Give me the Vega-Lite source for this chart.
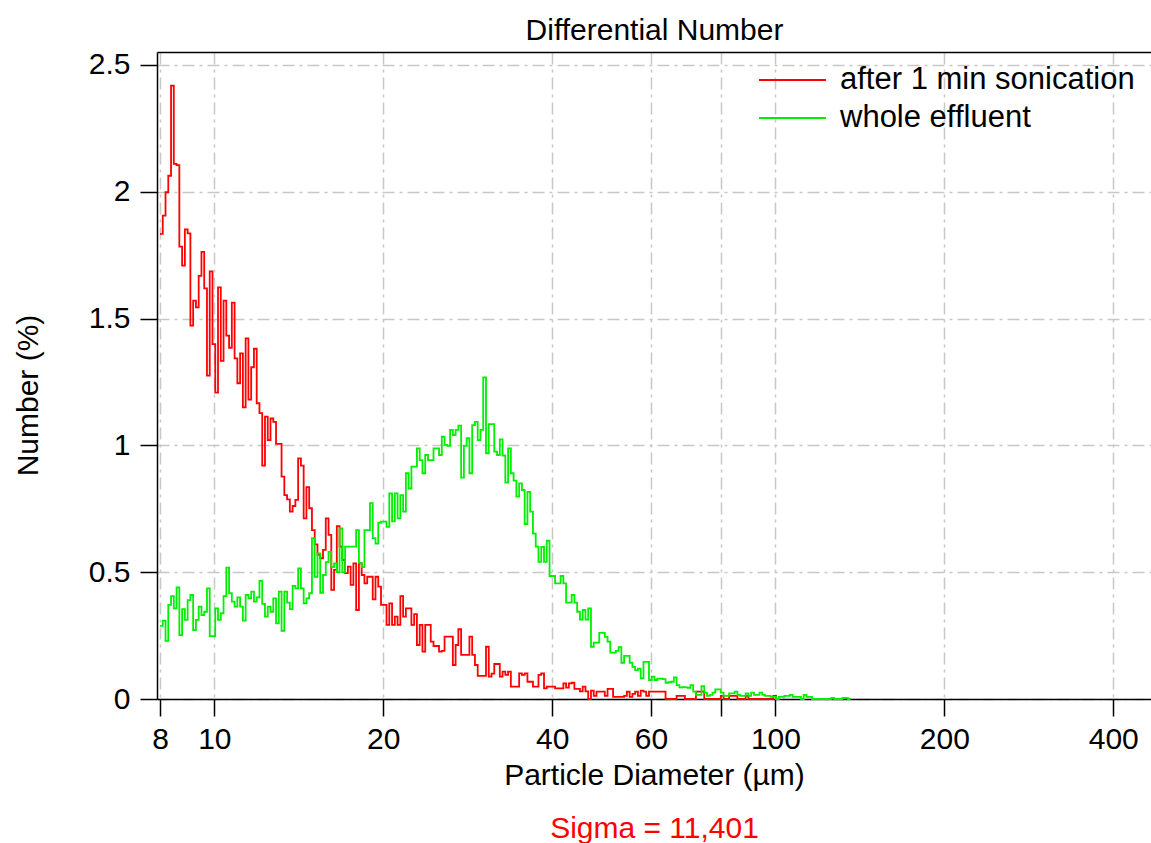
{
"$schema": "https://vega.github.io/schema/vega-lite/v6.json",
"width": 994, "height": 647,
"autosize": {"type": "none"},
"padding": {"left": 157, "top": 52, "right": 0, "bottom": 144},
"background": "white",
"config": {
  "view": {"stroke": null},
  "font": "Liberation Sans",
  "axis": {"domainColor": "black", "domainWidth": 1.5, "tickColor": "black", "tickWidth": 1.5, "tickSize": 17,
    "labelFontSize": 30, "labelColor": "black", "labelFont": "Liberation Sans",
    "titleFont": "Liberation Sans", "titleFontSize": 30, "titleFontWeight": "normal", "titleColor": "black",
    "gridColor": "#c8c8c8", "gridWidth": 1.5, "gridDash": [12, 5, 3, 5], "zindex": 1}
},
"datasets": {
"after": [
{"d":8,"n":1.834},{"d":8.0912,"n":1.906},{"d":8.1835,"n":1.998},{"d":8.2768,"n":2.063},{"d":8.3711,"n":2.418},{"d":8.4666,"n":2.11},{"d":8.5631,"n":2.105},{"d":8.6608,"n":1.784},{"d":8.7595,"n":1.709},{"d":8.8594,"n":1.852},
{"d":8.9604,"n":1.836},{"d":9.0626,"n":1.472},{"d":9.1659,"n":1.571},{"d":9.2704,"n":1.544},{"d":9.3761,"n":1.668},{"d":9.483,"n":1.763},{"d":9.5911,"n":1.619},{"d":9.7005,"n":1.275},{"d":9.8111,"n":1.686},{"d":9.923,"n":1.399},
{"d":10.0361,"n":1.208},{"d":10.1505,"n":1.623},{"d":10.2663,"n":1.333},{"d":10.3833,"n":1.571},{"d":10.5017,"n":1.433},{"d":10.6215,"n":1.385},{"d":10.7426,"n":1.563},{"d":10.865,"n":1.343},{"d":10.9889,"n":1.245},{"d":11.1142,"n":1.363},
{"d":11.2409,"n":1.15},{"d":11.3691,"n":1.422},{"d":11.4987,"n":1.18},{"d":11.6298,"n":1.308},{"d":11.7624,"n":1.381},{"d":11.8965,"n":1.166},{"d":12.0322,"n":1.127},{"d":12.1694,"n":0.92},{"d":12.3081,"n":1.113},{"d":12.4484,"n":1.021},
{"d":12.5904,"n":1.106},{"d":12.734,"n":1.093},{"d":12.8791,"n":1.006},{"d":13.026,"n":1.006},{"d":13.1745,"n":0.877},{"d":13.3247,"n":0.804},{"d":13.4766,"n":0.787},{"d":13.6303,"n":0.739},{"d":13.7857,"n":0.761},{"d":13.9429,"n":0.785},
{"d":14.1019,"n":0.949},{"d":14.2627,"n":0.92},{"d":14.4253,"n":0.712},{"d":14.5898,"n":0.835},{"d":14.7561,"n":0.752},{"d":14.9244,"n":0.666},{"d":15.0945,"n":0.61},{"d":15.2667,"n":0.568},{"d":15.4407,"n":0.555},{"d":15.6168,"n":0.588},
{"d":15.7948,"n":0.712},{"d":15.9749,"n":0.647},{"d":16.157,"n":0.43},{"d":16.3413,"n":0.509},{"d":16.5276,"n":0.682},{"d":16.716,"n":0.601},{"d":16.9066,"n":0.548},{"d":17.0994,"n":0.496},{"d":17.2944,"n":0.522},{"d":17.4915,"n":0.45},
{"d":17.691,"n":0.535},{"d":17.8927,"n":0.351},{"d":18.0967,"n":0.535},{"d":18.3031,"n":0.489},{"d":18.5117,"n":0.456},{"d":18.7228,"n":0.482},{"d":18.9363,"n":0.482},{"d":19.1522,"n":0.393},{"d":19.3706,"n":0.482},{"d":19.5914,"n":0.443},
{"d":19.8148,"n":0.371},{"d":20.0407,"n":0.371},{"d":20.2692,"n":0.292},{"d":20.5003,"n":0.377},{"d":20.7341,"n":0.292},{"d":20.9705,"n":0.325},{"d":21.2096,"n":0.292},{"d":21.4514,"n":0.406},{"d":21.696,"n":0.325},{"d":21.9434,"n":0.357},
{"d":22.1936,"n":0.357},{"d":22.4466,"n":0.292},{"d":22.7026,"n":0.335},{"d":22.9614,"n":0.213},{"d":23.2232,"n":0.292},{"d":23.488,"n":0.187},{"d":23.7558,"n":0.292},{"d":24.0267,"n":0.292},{"d":24.3006,"n":0.226},{"d":24.5777,"n":0.209},
{"d":24.8579,"n":0.209},{"d":25.1413,"n":0.187},{"d":25.428,"n":0.19},{"d":25.7179,"n":0.246},{"d":26.0111,"n":0.246},{"d":26.3077,"n":0.246},{"d":26.6077,"n":0.134},{"d":26.911,"n":0.213},{"d":27.2179,"n":0.275},{"d":27.5282,"n":0.174},
{"d":27.842,"n":0.174},{"d":28.1595,"n":0.174},{"d":28.4805,"n":0.246},{"d":28.8052,"n":0.174},{"d":29.1337,"n":0.134},{"d":29.4659,"n":0.091},{"d":29.8018,"n":0.091},{"d":30.1416,"n":0.091},{"d":30.4853,"n":0.206},{"d":30.8329,"n":0.088},
{"d":31.1844,"n":0.1},{"d":31.54,"n":0.138},{"d":31.8996,"n":0.138},{"d":32.2633,"n":0.088},{"d":32.6311,"n":0.108},{"d":33.0032,"n":0.095},{"d":33.3795,"n":0.108},{"d":33.7601,"n":0.049},{"d":34.145,"n":0.049},{"d":34.5343,"n":0.049},
{"d":34.9281,"n":0.101},{"d":35.3263,"n":0.095},{"d":35.7291,"n":0.101},{"d":36.1365,"n":0.068},{"d":36.5485,"n":0.068},{"d":36.9652,"n":0.049},{"d":37.3867,"n":0.049},{"d":37.813,"n":0.095},{"d":38.2441,"n":0.101},{"d":38.6802,"n":0.042},
{"d":39.1212,"n":0.049},{"d":39.5672,"n":0.049},{"d":40.0184,"n":0.049},{"d":40.4747,"n":0.042},{"d":40.9362,"n":0.042},{"d":41.4029,"n":0.042},{"d":41.875,"n":0.062},{"d":42.3524,"n":0.045},{"d":42.8353,"n":0.062},{"d":43.3237,"n":0.064},
{"d":43.8178,"n":0.04},{"d":44.3174,"n":0.04},{"d":44.8227,"n":0.03},{"d":45.3338,"n":0.049},{"d":45.8507,"n":0.03},{"d":46.3734,"n":0},{"d":46.9022,"n":0.033},{"d":47.4369,"n":0.012},{"d":47.9778,"n":0.029},{"d":48.5248,"n":0.029},
{"d":49.0781,"n":0.029},{"d":49.6377,"n":0.012},{"d":50.2037,"n":0.04},{"d":50.7761,"n":0.04},{"d":51.355,"n":0.008},{"d":51.9406,"n":0.008},{"d":52.5328,"n":0.008},{"d":53.1317,"n":0.008},{"d":53.7375,"n":0.012},{"d":54.3502,"n":0.029},
{"d":54.97,"n":0.008},{"d":55.5968,"n":0.02},{"d":56.2307,"n":0.029},{"d":56.8718,"n":0.012},{"d":57.5202,"n":0.033},{"d":58.176,"n":0.029},{"d":58.8393,"n":0.012},{"d":59.5102,"n":0.029},{"d":60.1887,"n":0.029},{"d":60.8749,"n":0.029},
{"d":61.5691,"n":0.029},{"d":62.2711,"n":0.029},{"d":62.9811,"n":0.029},{"d":63.6992,"n":0},{"d":64.4254,"n":0},{"d":65.16,"n":0},{"d":65.9029,"n":0},{"d":66.6543,"n":0.012},{"d":67.4143,"n":0.012},{"d":68.1829,"n":0.012},
{"d":68.9605,"n":0},{"d":69.7468,"n":0},{"d":70.542,"n":0},{"d":71.3463,"n":0},{"d":72.1598,"n":0.029},{"d":72.9825,"n":0.029},{"d":73.8147,"n":0.029},{"d":74.6563,"n":0},{"d":75.5075,"n":0},{"d":76.3684,"n":0},
{"d":77.2392,"n":0},{"d":78.1199,"n":0},{"d":79.0106,"n":0},{"d":79.9115,"n":0.012},{"d":80.8226,"n":0},{"d":81.7441,"n":0},{"d":82.6761,"n":0.012},{"d":83.6188,"n":0.012},{"d":84.5722,"n":0.012},{"d":85.5365,"n":0},
{"d":86.5118,"n":0},{"d":87.4982,"n":0},{"d":88.4958,"n":0.012},{"d":89.5049,"n":0},{"d":90.5254,"n":0},{"d":91.5576,"n":0},{"d":92.6015,"n":0},{"d":93.6573,"n":0},{"d":94.7252,"n":0},{"d":95.8052,"n":0},
{"d":96.8975,"n":0},{"d":98.0023,"n":0},{"d":99.1197,"n":0.012},{"d":100.2499,"n":0}
],
"whole": [
{"d":8,"n":0.288},{"d":8.0912,"n":0.309},{"d":8.1835,"n":0.229},{"d":8.2768,"n":0.371},{"d":8.3711,"n":0.406},{"d":8.4666,"n":0.357},{"d":8.5631,"n":0.44},{"d":8.6608,"n":0.252},{"d":8.7595,"n":0.354},{"d":8.8594,"n":0.312},
{"d":8.9604,"n":0.39},{"d":9.0626,"n":0.41},{"d":9.1659,"n":0.272},{"d":9.2704,"n":0.312},{"d":9.3761,"n":0.364},{"d":9.483,"n":0.331},{"d":9.5911,"n":0.344},{"d":9.7005,"n":0.436},{"d":9.8111,"n":0.248},{"d":9.923,"n":0.248},
{"d":10.0361,"n":0.357},{"d":10.1505,"n":0.312},{"d":10.2663,"n":0.338},{"d":10.3833,"n":0.406},{"d":10.5017,"n":0.518},{"d":10.6215,"n":0.417},{"d":10.7426,"n":0.384},{"d":10.865,"n":0.364},{"d":10.9889,"n":0.401},{"d":11.1142,"n":0.364},
{"d":11.2409,"n":0.309},{"d":11.3691,"n":0.41},{"d":11.4987,"n":0.397},{"d":11.6298,"n":0.423},{"d":11.7624,"n":0.384},{"d":11.8965,"n":0.401},{"d":12.0322,"n":0.466},{"d":12.1694,"n":0.375},{"d":12.3081,"n":0.325},{"d":12.4484,"n":0.364},
{"d":12.5904,"n":0.344},{"d":12.734,"n":0.397},{"d":12.8791,"n":0.298},{"d":13.026,"n":0.423},{"d":13.1745,"n":0.269},{"d":13.3247,"n":0.423},{"d":13.4766,"n":0.38},{"d":13.6303,"n":0.354},{"d":13.7857,"n":0.446},{"d":13.9429,"n":0.436},
{"d":14.1019,"n":0.515},{"d":14.2627,"n":0.436},{"d":14.4253,"n":0.377},{"d":14.5898,"n":0.397},{"d":14.7561,"n":0.417},{"d":14.9244,"n":0.634},{"d":15.0945,"n":0.482},{"d":15.2667,"n":0.574},{"d":15.4407,"n":0.419},{"d":15.6168,"n":0.489},
{"d":15.7948,"n":0.54},{"d":15.9749,"n":0.58},{"d":16.157,"n":0.52},{"d":16.3413,"n":0.535},{"d":16.5276,"n":0.5},{"d":16.716,"n":0.673},{"d":16.9066,"n":0.5},{"d":17.0994,"n":0.601},{"d":17.2944,"n":0.601},{"d":17.4915,"n":0.601},
{"d":17.691,"n":0.601},{"d":17.8927,"n":0.666},{"d":18.0967,"n":0.537},{"d":18.3031,"n":0.52},{"d":18.5117,"n":0.666},{"d":18.7228,"n":0.666},{"d":18.9363,"n":0.772},{"d":19.1522,"n":0.634},{"d":19.3706,"n":0.613},{"d":19.5914,"n":0.695},
{"d":19.8148,"n":0.699},{"d":20.0407,"n":0.699},{"d":20.2692,"n":0.679},{"d":20.5003,"n":0.811},{"d":20.7341,"n":0.7},{"d":20.9705,"n":0.811},{"d":21.2096,"n":0.712},{"d":21.4514,"n":0.804},{"d":21.696,"n":0.739},{"d":21.9434,"n":0.89},
{"d":22.1936,"n":0.83},{"d":22.4466,"n":0.916},{"d":22.7026,"n":0.916},{"d":22.9614,"n":0.988},{"d":23.2232,"n":0.942},{"d":23.488,"n":0.89},{"d":23.7558,"n":0.962},{"d":24.0267,"n":0.942},{"d":24.3006,"n":0.942},{"d":24.5777,"n":0.988},
{"d":24.8579,"n":0.988},{"d":25.1413,"n":0.962},{"d":25.428,"n":1.034},{"d":25.7179,"n":1.002},{"d":26.0111,"n":0.998},{"d":26.3077,"n":1.061},{"d":26.6077,"n":1.041},{"d":26.911,"n":1.061},{"d":27.2179,"n":1.078},{"d":27.5282,"n":0.873},
{"d":27.842,"n":0.998},{"d":28.1595,"n":1.028},{"d":28.4805,"n":0.89},{"d":28.8052,"n":1.08},{"d":29.1337,"n":1.093},{"d":29.4659,"n":1.021},{"d":29.8018,"n":1.061},{"d":30.1416,"n":1.268},{"d":30.4853,"n":0.969},{"d":30.8329,"n":1.084},
{"d":31.1844,"n":1.084},{"d":31.54,"n":0.975},{"d":31.8996,"n":0.962},{"d":32.2633,"n":1.024},{"d":32.6311,"n":0.96},{"d":33.0032,"n":0.853},{"d":33.3795,"n":0.988},{"d":33.7601,"n":0.89},{"d":34.145,"n":0.861},{"d":34.5343,"n":0.798},
{"d":34.9281,"n":0.85},{"d":35.3263,"n":0.824},{"d":35.7291,"n":0.69},{"d":36.1365,"n":0.817},{"d":36.5485,"n":0.739},{"d":36.9652,"n":0.652},{"d":37.3867,"n":0.601},{"d":37.813,"n":0.541},{"d":38.2441,"n":0.6},{"d":38.6802,"n":0.541},
{"d":39.1212,"n":0.624},{"d":39.5672,"n":0.485},{"d":40.0184,"n":0.485},{"d":40.4747,"n":0.456},{"d":40.9362,"n":0.456},{"d":41.4029,"n":0.485},{"d":41.875,"n":0.456},{"d":42.3524,"n":0.38},{"d":42.8353,"n":0.38},{"d":43.3237,"n":0.41},
{"d":43.8178,"n":0.38},{"d":44.3174,"n":0.344},{"d":44.8227,"n":0.313},{"d":45.3338,"n":0.351},{"d":45.8507,"n":0.313},{"d":46.3734,"n":0.357},{"d":46.9022,"n":0.206},{"d":47.4369,"n":0.222},{"d":47.9778,"n":0.222},{"d":48.5248,"n":0.261},
{"d":49.0781,"n":0.261},{"d":49.6377,"n":0.245},{"d":50.2037,"n":0.226},{"d":50.7761,"n":0.183},{"d":51.355,"n":0.183},{"d":51.9406,"n":0.19},{"d":52.5328,"n":0.204},{"d":53.1317,"n":0.143},{"d":53.7375,"n":0.17},{"d":54.3502,"n":0.17},
{"d":54.97,"n":0.143},{"d":55.5968,"n":0.127},{"d":56.2307,"n":0.114},{"d":56.8718,"n":0.12},{"d":57.5202,"n":0.081},{"d":58.176,"n":0.146},{"d":58.8393,"n":0.146},{"d":59.5102,"n":0.075},{"d":60.1887,"n":0.088},{"d":60.8749,"n":0.075},
{"d":61.5691,"n":0.08},{"d":62.2711,"n":0.08},{"d":62.9811,"n":0.078},{"d":63.6992,"n":0.064},{"d":64.4254,"n":0.066},{"d":65.16,"n":0.068},{"d":65.9029,"n":0.085},{"d":66.6543,"n":0.055},{"d":67.4143,"n":0.046},{"d":68.1829,"n":0.047},
{"d":68.9605,"n":0.046},{"d":69.7468,"n":0.044},{"d":70.542,"n":0.055},{"d":71.3463,"n":0.029},{"d":72.1598,"n":0.016},{"d":72.9825,"n":0.016},{"d":73.8147,"n":0.051},{"d":74.6563,"n":0.025},{"d":75.5075,"n":0.012},{"d":76.3684,"n":0.016},
{"d":77.2392,"n":0.025},{"d":78.1199,"n":0.038},{"d":79.0106,"n":0.038},{"d":79.9115,"n":0.025},{"d":80.8226,"n":0.012},{"d":81.7441,"n":0.012},{"d":82.6761,"n":0.022},{"d":83.6188,"n":0.022},{"d":84.5722,"n":0.029},{"d":85.5365,"n":0.016},
{"d":86.5118,"n":0.012},{"d":87.4982,"n":0.012},{"d":88.4958,"n":0.022},{"d":89.5049,"n":0.012},{"d":90.5254,"n":0.025},{"d":91.5576,"n":0.016},{"d":92.6015,"n":0.016},{"d":93.6573,"n":0.025},{"d":94.7252,"n":0.016},{"d":95.8052,"n":0.012},
{"d":96.8975,"n":0.012},{"d":98.0023,"n":0.008},{"d":99.1197,"n":0.008},{"d":100.2499,"n":0},{"d":101.3929,"n":0.008},{"d":102.549,"n":0.008},{"d":103.7182,"n":0.012},{"d":104.9008,"n":0.012},{"d":106.0968,"n":0.016},{"d":107.3065,"n":0.008},
{"d":108.53,"n":0.008},{"d":109.767,"n":0.008},{"d":111.019,"n":0},{"d":112.285,"n":0.016},{"d":113.565,"n":0.008},{"d":114.86,"n":0.008},{"d":116.169,"n":0},{"d":117.494,"n":0},{"d":118.834,"n":0},{"d":120.189,"n":0},
{"d":121.559,"n":0},{"d":122.945,"n":0},{"d":124.347,"n":0},{"d":125.765,"n":0.004},{"d":127.199,"n":0},{"d":128.649,"n":0},{"d":130.116,"n":0},{"d":131.599,"n":0.004},{"d":133.1,"n":0.004},{"d":134.617,"n":0},
{"d":136.152,"n":0}
]
},
"layer": [
  {
    "data": {"name": "after"},
    "mark": {"type": "line", "interpolate": "step-after", "strokeWidth": 1.8},
    "encoding": {
      "x": {"field": "d", "type": "quantitative",
        "scale": {"type": "log", "domain": [7.902, 467], "nice": false},
        "axis": {"orient": "bottom", "values": [8, 10, 20, 40, 60, 80, 100, 200, 400], "format": "~g",
          "labelExpr": "datum.value == 80 ? '' : datum.label",
          "labelPadding": 8, "labelFlush": false, "labelOverlap": false,
          "title": "Particle Diameter (µm)", "titleY": 85, "titleBaseline": "alphabetic"}},
      "y": {"field": "n", "type": "quantitative",
        "scale": {"domain": [0, 2.551], "nice": false, "zero": true},
        "axis": {"values": [0, 0.5, 1, 1.5, 2, 2.5], "format": "~g", "labelPadding": 10, "labelFlush": false,
          "title": "Number (%)", "titleX": -129, "titleY": 343, "titleAngle": 270, "titleAlign": "center", "titleBaseline": "middle"}},
      "color": {"datum": "after 1 min sonication",
        "scale": {"domain": ["after 1 min sonication", "whole effluent"], "range": ["#ff0000", "#00ee00"]},
        "legend": {"title": null, "orient": "none", "legendX": 601, "legendY": 9, "padding": 0,
          "symbolType": "stroke", "symbolSize": 4489, "symbolStrokeWidth": 1.8,
          "labelFontSize": 31, "labelFont": "Liberation Sans", "labelColor": "black", "labelOffset": 13, "labelLimit": 500,
          "clipHeight": 38, "rowPadding": 0}}
    }
  },
  {
    "data": {"name": "whole"},
    "mark": {"type": "line", "interpolate": "step-after", "strokeWidth": 1.8},
    "encoding": {
      "x": {"field": "d", "type": "quantitative", "axis": null},
      "y": {"field": "n", "type": "quantitative"},
      "color": {"datum": "whole effluent"}
    }
  },
  {
    "data": {"values": [{"d": 8}]},
    "mark": {"type": "point", "opacity": 0},
    "encoding": {
      "x": {"field": "d", "type": "quantitative",
        "axis": {"orient": "top", "labels": false, "ticks": false, "domain": true, "grid": false,
          "title": "Differential Number", "titleY": -13, "titleBaseline": "alphabetic"}}
    }
  },
  {
    "data": {"values": [{"d": 8}]},
    "mark": {"type": "point", "opacity": 0},
    "encoding": {
      "x": {"field": "d", "type": "quantitative",
        "axis": {"orient": "bottom", "labels": false, "ticks": false, "domain": false, "grid": false,
          "title": "Sigma = 11,401", "titleColor": "#ff0000", "titleY": 138, "titleBaseline": "alphabetic"}}
    }
  }
],
"resolve": {"axis": {"x": "independent"}}
}
